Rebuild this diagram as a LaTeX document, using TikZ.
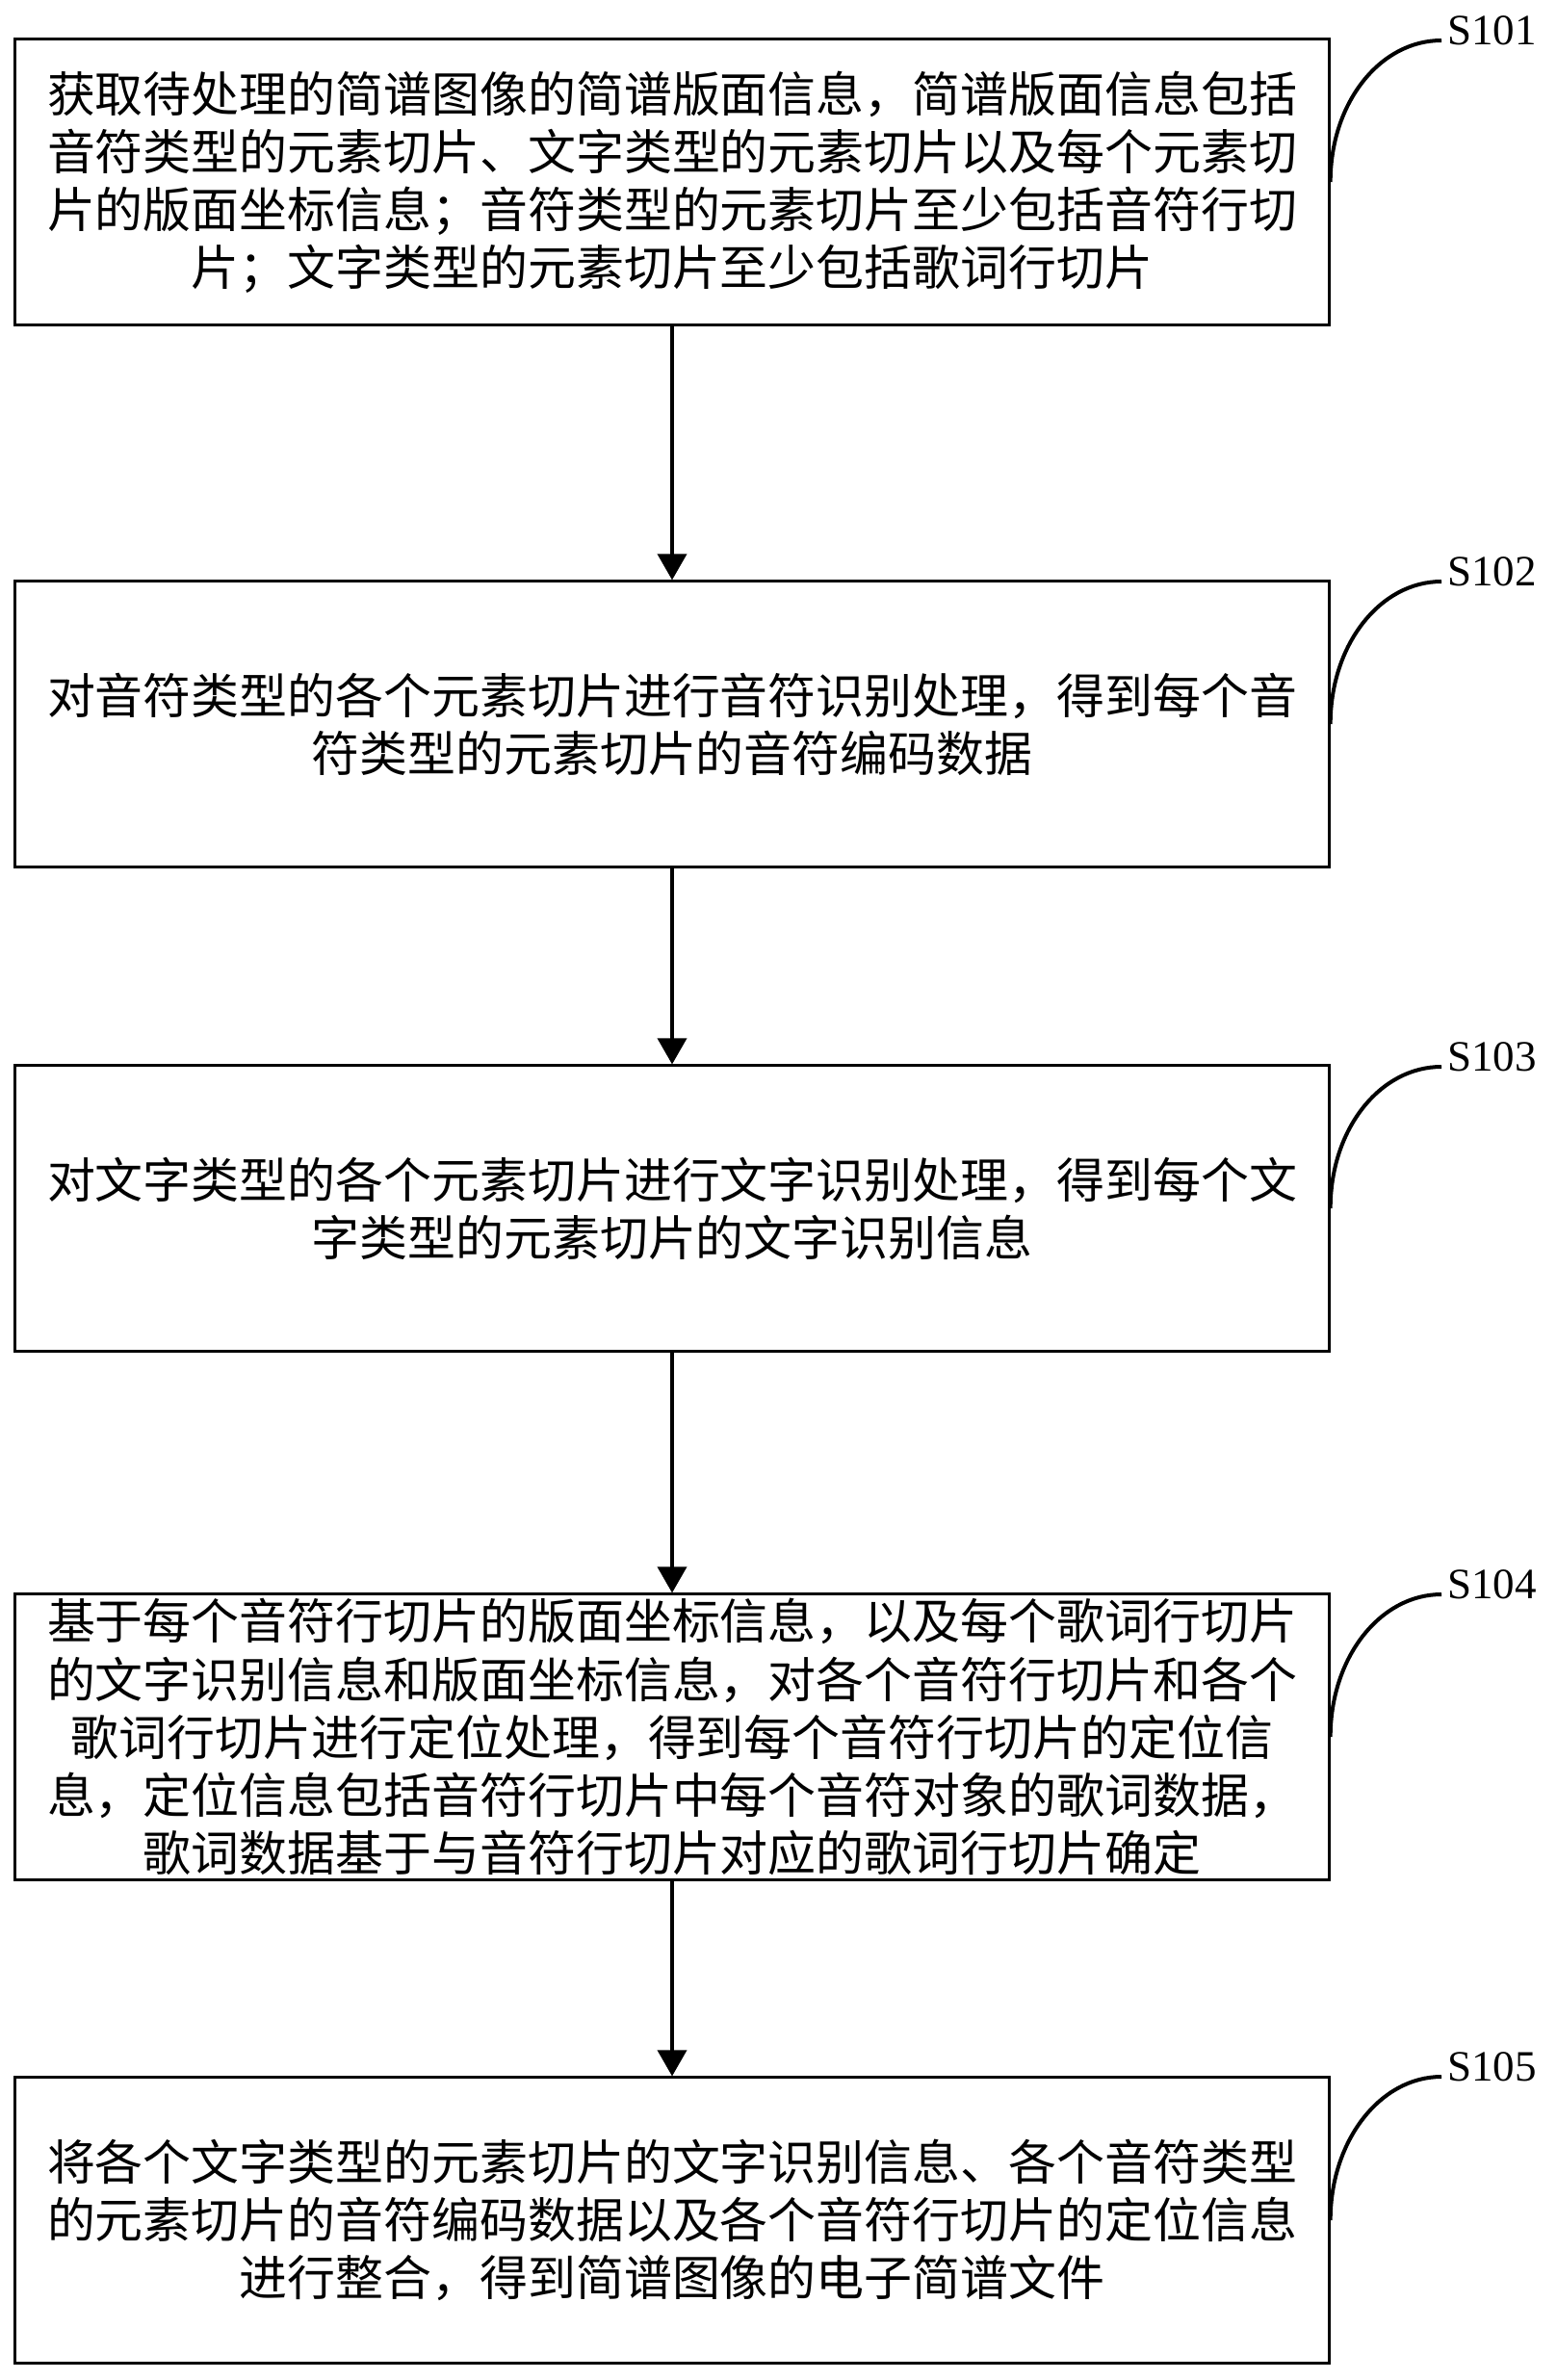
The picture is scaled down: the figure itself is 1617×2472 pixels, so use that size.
\documentclass[tikz,border=0pt]{standalone}
\usepackage{fontspec}
\setmainfont{Liberation Serif}
\newfontfamily\cjk{Noto Sans CJK SC}
\usetikzlibrary{arrows.meta}

\tikzset{
  stepbox/.style={draw, line width=0.075cm, minimum width=34.1cm, minimum height=7.4cm,
    align=center, inner sep=0pt, font=\cjk\fontsize{35.5}{42.7}\selectfont},
  steplbl/.style={anchor=west, inner sep=0pt, font=\fontsize{32}{38}\selectfont},
  flow/.style={line width=0.1cm, -{Triangle[length=0.68cm,width=0.75cm]}},
  lead/.style={line width=0.1cm}
}

\begin{document}
\begin{tikzpicture}[x=0.025cm, y=-0.025cm]
\useasboundingbox (0,0) rectangle (1617,2472);
\node[stepbox] (b1) at (698,189) {获取待处理的简谱图像的简谱版面信息，简谱版面信息包括\\
  音符类型的元素切片、文字类型的元素切片以及每个元素切\\
  片的版面坐标信息；音符类型的元素切片至少包括音符行切\\
  片；文字类型的元素切片至少包括歌词行切片};
\node[stepbox] (b2) at (698,752) {对音符类型的各个元素切片进行音符识别处理，得到每个音\\
  符类型的元素切片的音符编码数据};
\node[stepbox] (b3) at (698,1255) {对文字类型的各个元素切片进行文字识别处理，得到每个文\\
  字类型的元素切片的文字识别信息};
\node[stepbox] (b4) at (698,1804) {基于每个音符行切片的版面坐标信息，以及每个歌词行切片\\
  的文字识别信息和版面坐标信息，对各个音符行切片和各个\\
  歌词行切片进行定位处理，得到每个音符行切片的定位信\\
  息，定位信息包括音符行切片中每个音符对象的歌词数据，\\
  歌词数据基于与音符行切片对应的歌词行切片确定};
\node[stepbox] (b5) at (698,2306) {将各个文字类型的元素切片的文字识别信息、各个音符类型\\
  的元素切片的音符编码数据以及各个音符行切片的定位信息\\
  进行整合，得到简谱图像的电子简谱文件};
\foreach \a/\b in {1/2,2/3,3/4,4/5} {
  \draw[flow] (b\a.south) -- (b\b.north);
}
\foreach \i/\y in {1/42,2/604,3/1108,4/1656,5/2157} {
  \coordinate (t\i) at (1497,\y);
  \node[steplbl] (l\i) at (1503,\y-10) {S10\i};
  \draw[lead] (b\i.east) .. controls +(0,-82) and +(-64,0) .. (t\i);
}
\end{tikzpicture}
\end{document}
